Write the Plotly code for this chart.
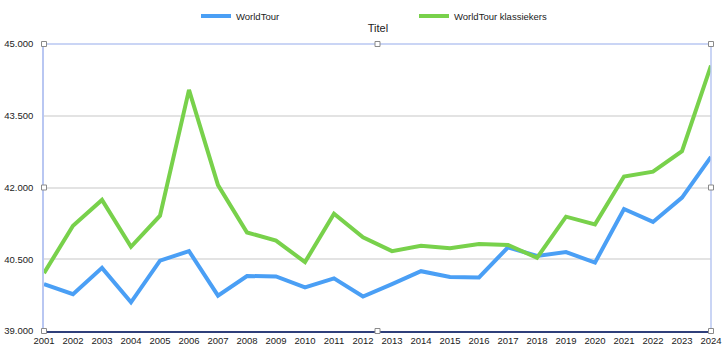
import plotly.graph_objects as go

years = list(range(2001, 2025))
worldtour = [39980, 39770, 40320, 39600, 40470, 40670, 39740, 40150, 40140, 39910,
             40100, 39720, 39980, 40250, 40130, 40120, 40750, 40570, 40650, 40430,
             41550, 41280, 41790, 42640]
klassiekers = [40210, 41200, 41740, 40760, 41410, 44040, 42050, 41060, 40890, 40440,
               41450, 40960, 40670, 40780, 40730, 40820, 40800, 40530, 41390, 41230,
               42230, 42330, 42760, 44550]
yticks = [39000, 40500, 42000, 43500, 45000]

fig = go.Figure()
fig.add_trace(go.Scatter(x=years, y=worldtour, mode="lines", name="WorldTour",
                         line=dict(color="#4a9ff5", width=4), legend="legend"))
fig.add_trace(go.Scatter(x=years, y=klassiekers, mode="lines", name="WorldTour klassiekers",
                         line=dict(color="#78d14b", width=4), legend="legend2"))

font = dict(family="Liberation Sans, Arial, sans-serif", size=9.5, color="#222222")

fig.update_layout(
    width=728, height=353,
    margin=dict(l=44, r=17, t=44, b=22, autoexpand=False),
    paper_bgcolor="white", plot_bgcolor="white",
    separators=",.",
    font=font,
    title=dict(text="Titel", x=378/728, xanchor="center", y=1 - 28/353, yanchor="middle",
               xref="container", yref="container",
               font=dict(family="Liberation Sans, Arial, sans-serif", size=11, color="#222222")),
    legend=dict(orientation="h", xref="container", yref="container", x=196/728,
                xanchor="left", y=1 - 16/353, yanchor="middle",
                font=font, bgcolor="rgba(0,0,0,0)"),
    legend2=dict(orientation="h", xref="container", yref="container", x=414/728,
                 xanchor="left", y=1 - 16/353, yanchor="middle",
                 font=font, bgcolor="rgba(0,0,0,0)"),
    xaxis=dict(range=[2001, 2024], tickmode="array", tickvals=years,
               ticktext=[str(y) for y in years], showgrid=False, zeroline=False,
               showline=True, linecolor="#2f3f7a", linewidth=1.5, ticks="",
               tickfont=font, fixedrange=True, automargin=False),
    yaxis=dict(range=[39000, 45000], tickmode="array", tickvals=yticks,
               tickformat=",.0f", showgrid=True, gridcolor="#e3e3e3", gridwidth=1.5,
               zeroline=False, showline=True, linecolor="#b9c7f2", linewidth=1.5,
               ticks="", ticklabelstandoff=7, tickfont=font, fixedrange=True,
               automargin=False),
    showlegend=True,
)

# frame lines (top & right) like the selection box
fig.add_shape(type="line", xref="paper", yref="paper", x0=0, x1=1, y0=1, y1=1,
              line=dict(color="#b9c7f2", width=1.5))
fig.add_shape(type="line", xref="paper", yref="paper", x0=1, x1=1, y0=0, y1=1,
              line=dict(color="#b9c7f2", width=1.5))

# selection handles
for hx in (0, 0.5, 1):
    for hy in (0, 0.5, 1):
        if hx == 0.5 and hy == 0.5:
            continue
        fig.add_shape(type="rect", xref="paper", yref="paper", xsizemode="pixel",
                      ysizemode="pixel", xanchor=hx, yanchor=hy, x0=-2.5, x1=2.5,
                      y0=-2.5, y1=2.5, fillcolor="white",
                      line=dict(color="#8a8a8a", width=1))

fig.write_html("out.html")
